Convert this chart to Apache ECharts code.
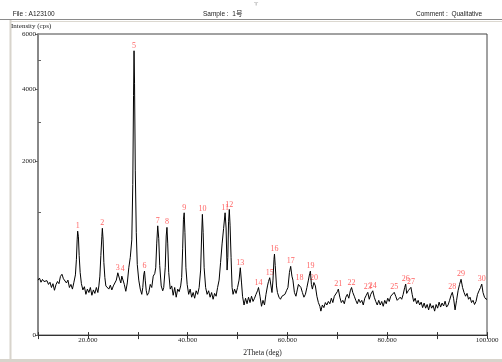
<!DOCTYPE html>
<html>
<head>
<meta charset="utf-8">
<script src="https://cdn.jsdelivr.net/npm/echarts@6/dist/echarts.min.js"></script>
<style>html,body{margin:0;padding:0;background:#fff;}#c{width:502px;height:362px;}</style>
</head>
<body>
<div id="c"></div>
<script>
// XRD scan: [2Theta (deg), intensity (cps)]
const scan = [
[10.0,200],[10.3,215],[10.6,185],[10.9,205],[11.2,190],[11.5,178],[11.8,196],[12.1,170],[12.4,185],[12.7,150],
[13.0,175],[13.3,133],[13.6,168],[13.9,190],[14.2,175],[14.5,228],[14.8,245],[15.1,210],[15.4,225],[15.7,180],
[16.0,200],[16.3,150],[16.6,170],[16.9,140],[17.2,185],[17.5,240],[17.7,380],[17.85,600],[17.95,715],[18.1,640],
[18.25,420],[18.45,260],[18.7,175],[19.0,135],[19.3,155],[19.6,110],[19.9,140],[20.2,120],[20.5,150],[20.8,105],
[21.1,135],[21.4,115],[21.7,150],[22.0,120],[22.2,160],[22.4,230],[22.6,420],[22.8,640],[22.9,755],[23.05,600],
[23.2,350],[23.4,220],[23.6,160],[23.9,170],[24.2,140],[24.5,165],[24.8,135],[25.1,160],[25.4,150],[25.7,200],
[26.0,257],[26.3,215],[26.6,180],[26.8,230],[27.0,245],[27.3,170],[27.6,127],[27.9,180],[28.2,300],[28.5,400],
[28.8,600],[29.0,1500],[29.15,3800],[29.25,5350],[29.35,4200],[29.5,1800],[29.7,700],[29.9,330],[30.2,200],[30.5,140],
[30.8,110],[31.0,150],[31.2,240],[31.35,271],[31.5,200],[31.7,130],[31.9,105],[32.2,120],[32.5,170],[32.8,150],
[33.1,230],[33.4,250],[33.6,300],[33.8,560],[34.0,790],[34.2,620],[34.4,320],[34.7,160],[35.0,130],[35.2,150],
[35.5,300],[35.7,650],[35.85,768],[36.0,560],[36.2,260],[36.5,140],[36.8,160],[37.1,105],[37.4,150],[37.7,95],
[38.0,140],[38.3,125],[38.6,160],[38.8,220],[39.0,500],[39.15,880],[39.3,990],[39.45,700],[39.65,300],[39.9,170],
[40.2,110],[40.5,140],[40.8,95],[41.1,120],[41.4,90],[41.7,130],[42.0,110],[42.3,150],[42.6,280],[42.8,650],
[42.95,965],[43.1,700],[43.3,300],[43.6,150],[43.9,110],[44.2,130],[44.5,95],[44.8,120],[45.1,85],[45.4,115],
[45.7,100],[46.0,150],[46.3,200],[46.6,350],[46.9,550],[47.2,750],[47.5,990],[47.7,760],[47.9,280],[48.05,400],
[48.2,850],[48.35,1045],[48.5,800],[48.7,400],[48.9,150],[49.1,110],[49.4,140],[49.7,115],[50.0,150],[50.3,200],
[50.55,300],[50.8,180],[51.0,100],[51.3,60],[51.6,90],[51.9,65],[52.2,95],[52.5,70],[52.8,100],[53.1,75],
[53.4,90],[53.7,110],[54.0,130],[54.2,150],[54.5,100],[54.8,55],[55.1,80],[55.4,60],[55.7,110],[56.0,160],
[56.2,190],[56.45,218],[56.7,160],[56.9,120],[57.1,200],[57.3,380],[57.4,435],[57.55,320],[57.8,160],[58.0,120],
[58.3,95],[58.6,85],[58.9,100],[59.2,90],[59.5,110],[59.8,130],[60.1,150],[60.4,260],[60.65,313],[60.9,230],
[61.1,200],[61.4,120],[61.7,100],[62.0,140],[62.2,170],[62.4,183],[62.7,150],[63.0,120],[63.3,95],[63.6,110],
[63.9,150],[64.2,200],[64.45,250],[64.6,271],[64.8,170],[65.0,140],[65.3,183],[65.6,160],[65.9,100],[66.2,70],
[66.5,55],[66.7,38],[67.0,60],[67.3,50],[67.6,70],[67.9,60],[68.2,75],[68.5,65],[68.8,90],[69.1,70],
[69.4,100],[69.7,110],[70.0,125],[70.2,140],[70.5,95],[70.8,70],[71.1,80],[71.4,65],[71.7,95],[72.0,110],
[72.3,90],[72.6,130],[72.85,150],[73.1,120],[73.4,100],[73.7,80],[74.0,65],[74.3,85],[74.6,70],[74.9,80],
[75.2,60],[75.5,90],[75.8,105],[76.1,121],[76.4,85],[76.7,110],[77.1,130],[77.4,95],[77.7,75],[78.0,60],
[78.3,80],[78.6,60],[78.9,75],[79.2,55],[79.5,80],[79.8,65],[80.1,90],[80.4,75],[80.7,100],[81.0,110],
[81.4,121],[81.7,100],[82.0,80],[82.3,72],[82.6,95],[82.9,85],[83.2,110],[83.5,150],[83.7,172],[83.9,115],
[84.2,130],[84.5,140],[84.75,151],[85.0,110],[85.3,75],[85.6,90],[85.9,65],[86.2,80],[86.5,60],[86.8,72],
[87.1,50],[87.4,68],[87.7,48],[88.0,62],[88.3,42],[88.6,66],[88.9,48],[89.2,58],[89.5,38],[89.8,62],
[90.1,48],[90.4,72],[90.7,52],[91.0,68],[91.3,56],[91.6,76],[91.9,52],[92.2,60],[92.5,80],[92.8,105],
[93.05,121],[93.3,90],[93.6,42],[93.9,80],[94.2,130],[94.5,170],[94.8,206],[95.1,150],[95.4,120],[95.7,100],
[96.0,115],[96.3,85],[96.6,95],[96.9,70],[97.2,80],[97.5,62],[97.8,75],[98.1,110],[98.4,130],[98.7,150],
[98.95,172],[99.2,120],[99.5,95],[99.8,85],[100.0,86]
];

// Peak markers (numbers shown in red)
const peakNo     = [1,2,3,4,5,6,7,8,9,10,11,12,13,14,15,16,17,18,19,20,21,22,23,24,25,26,27,28,29,30];
const peakTheta  = [17.95,22.9,26.0,27.0,29.25,31.35,34.0,35.85,39.3,42.95,47.5,48.35,50.55,54.2,56.45,57.4,60.65,62.4,64.6,65.3,70.2,72.85,76.1,77.1,81.4,83.7,84.75,93.05,94.8,98.95];
const peakCounts = [715,755,257,245,5350,271,790,768,990,965,990,1045,300,150,218,435,313,183,271,183,140,150,121,130,121,172,151,121,206,172];

// Axis ticks (intensity axis is square-root scaled)
const xLabelTicks = [20,40,60,80,100];
const yLabelTicks = [0,2000,4000,6000];
const yMinorTicks = [1000,3000,5000];
const yMax = 6000;

const header = { fileKey: 'File', file: ': A123100', sample: 'Sample :  1号', comment: 'Comment :  Qualitative' };

const sq = Math.sqrt;
const serif = '"Liberation Serif", "DejaVu Serif", serif';
const sans = '"Liberation Sans", Arial, "Noto Sans CJK SC", sans-serif';
const hdrFont = '6.5px ' + sans;

const chart = echarts.init(document.getElementById('c'), null, {renderer: 'canvas'});
chart.setOption({
  animation: false,
  backgroundColor: '#fff',
  grid: { left: 38, right: 15, top: 34, bottom: 18, show: true, borderColor: '#444', borderWidth: 1, backgroundColor: 'transparent' },
  xAxis: [
    {
      type: 'value', min: 10, max: 100, interval: 10, position: 'bottom',
      name: '2Theta (deg)', nameLocation: 'middle', nameGap: 11,
      nameTextStyle: { fontFamily: serif, fontSize: 7.5, color: '#222' },
      axisLine: { lineStyle: { color: '#333', width: 1 } },
      axisTick: { inside: true, length: 3, lineStyle: { color: '#333' } },
      axisLabel: { customValues: xLabelTicks, margin: 2, fontFamily: serif, fontSize: 7, color: '#222',
                   formatter: v => v.toFixed(3) },
      splitLine: { show: false }
    },
    {
      type: 'value', min: 10, max: 100, interval: 10, position: 'top',
      axisLine: { show: true, lineStyle: { color: '#333' } },
      axisTick: { inside: true, length: 4, lineStyle: { color: '#333' } },
      axisLabel: { show: false }, splitLine: { show: false }
    }
  ],
  yAxis: [
    {
      type: 'value', min: 0, max: sq(yMax), position: 'left',
      name: 'Intensity (cps)', nameLocation: 'end', nameGap: 4,
      nameTextStyle: { fontFamily: serif, fontSize: 7, color: '#222', align: 'left', padding: [0, 0, 0, -27] },
      axisLine: { show: true, lineStyle: { color: '#888', width: 2 } },
      axisTick: { show: true, customValues: yLabelTicks.map(sq), length: 3, lineStyle: { color: '#666' } },
      axisLabel: { customValues: yLabelTicks.map(sq), margin: 2, fontFamily: serif, fontSize: 7, color: '#222',
                   formatter: v => String(Math.round(v * v)) },
      splitLine: { show: false }
    },
    {
      type: 'value', min: 0, max: sq(yMax), position: 'left',
      axisLine: { show: false },
      axisTick: { show: true, inside: true, customValues: yMinorTicks.map(sq), length: 3, lineStyle: { color: '#666' } },
      axisLabel: { show: false }, splitLine: { show: false }
    }
  ],
  series: [
    {
      type: 'line', xAxisIndex: 0, yAxisIndex: 0,
      data: scan.map(p => [p[0], sq(p[1])]),
      showSymbol: false, symbol: 'none',
      lineStyle: { color: '#000', width: 1 },
      silent: true
    },
    {
      type: 'scatter', xAxisIndex: 0, yAxisIndex: 0,
      data: peakTheta.map((t, i) => ({ value: [t, sq(peakCounts[i])], name: String(peakNo[i]) })),
      symbolSize: 0,
      label: { show: true, position: 'top', distance: 1, formatter: p => p.name,
               fontFamily: serif, fontSize: 8, color: '#ff3b3b' },
      silent: true
    }
  ],
  graphic: [
    { type: 'line', shape: { x1: 0, y1: 19.5, x2: 502, y2: 19.5 }, style: { stroke: '#8a8a8a', lineWidth: 1 } },
    { type: 'line', shape: { x1: 10, y1: 21.5, x2: 502, y2: 21.5 }, style: { stroke: '#dcd8d0', lineWidth: 1 } },
    { type: 'line', shape: { x1: 10.5, y1: 20, x2: 10.5, y2: 359 }, style: { stroke: '#d8d4cc', lineWidth: 2 } },
    { type: 'rect', shape: { x: 0, y: 359, width: 502, height: 3 }, style: { fill: '#d8d4cc' } },
    { type: 'text', x: 256, y: 3, style: { text: 'ㅜ', font: '5px "Noto Sans CJK KR"', fill: '#555', align: 'center', verticalAlign: 'middle' } },
    { type: 'text', x: 12.7, y: 14, style: { text: header.fileKey, font: hdrFont, fill: '#222', verticalAlign: 'middle' } },
    { type: 'text', x: 25, y: 14, style: { text: header.file, font: hdrFont, fill: '#222', verticalAlign: 'middle' } },
    { type: 'text', x: 203, y: 14, style: { text: header.sample, font: hdrFont, fill: '#222', verticalAlign: 'middle' } },
    { type: 'text', x: 416, y: 14, style: { text: header.comment, font: hdrFont, fill: '#222', verticalAlign: 'middle' } }
  ]
});
</script>
</body>
</html>
